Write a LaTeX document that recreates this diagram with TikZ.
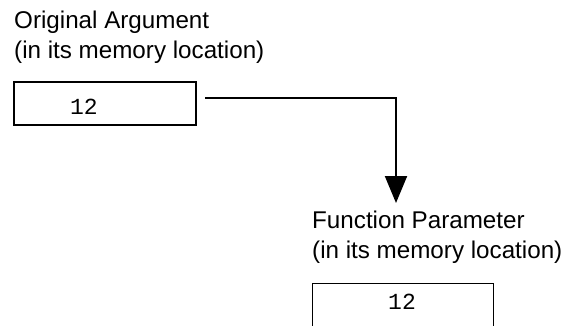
\documentclass[tikz,border=0pt]{standalone}
\usepackage{fontspec}
\setmainfont{Liberation Sans}
\setmonofont{Liberation Mono}
\usetikzlibrary{arrows.meta}
\tikzset{
  label text/.style={anchor=base west, inner sep=0pt, align=left,
    font=\fontsize{24.2pt}{30pt}\selectfont},
  value text/.style={anchor=base, inner sep=0pt, font=\fontsize{23pt}{28pt}\selectfont\ttfamily},
  flow/.style={line width=2pt, -{Triangle[length=27pt,width=22pt]}}
}
\begin{document}
\begin{tikzpicture}[x=1pt,y=-1pt]
\useasboundingbox (0,0) rectangle (562,325);
\clip (0,0) rectangle (562,325);
% top (base anchor = baseline of the last line)
\node[label text] (t1) at (14,58) {Original Argument\\(in its memory location)};
\draw[line width=2pt] (14,82) rectangle (196,125);
\node[value text] (v1) at (84,114) {12};
\coordinate (start) at (205,97.7);
\coordinate (tip) at (396,203);
\draw[flow] (start) -| (tip);
% bottom
\node[label text] (t2) at (312,258) {Function Parameter\\(in its memory location)};
\draw[line width=1pt] (312,340) -- (312,283) -- (493,283) -- (493,340);
\node[value text] (v2) at (402,309) {12};
\end{tikzpicture}
\end{document}
